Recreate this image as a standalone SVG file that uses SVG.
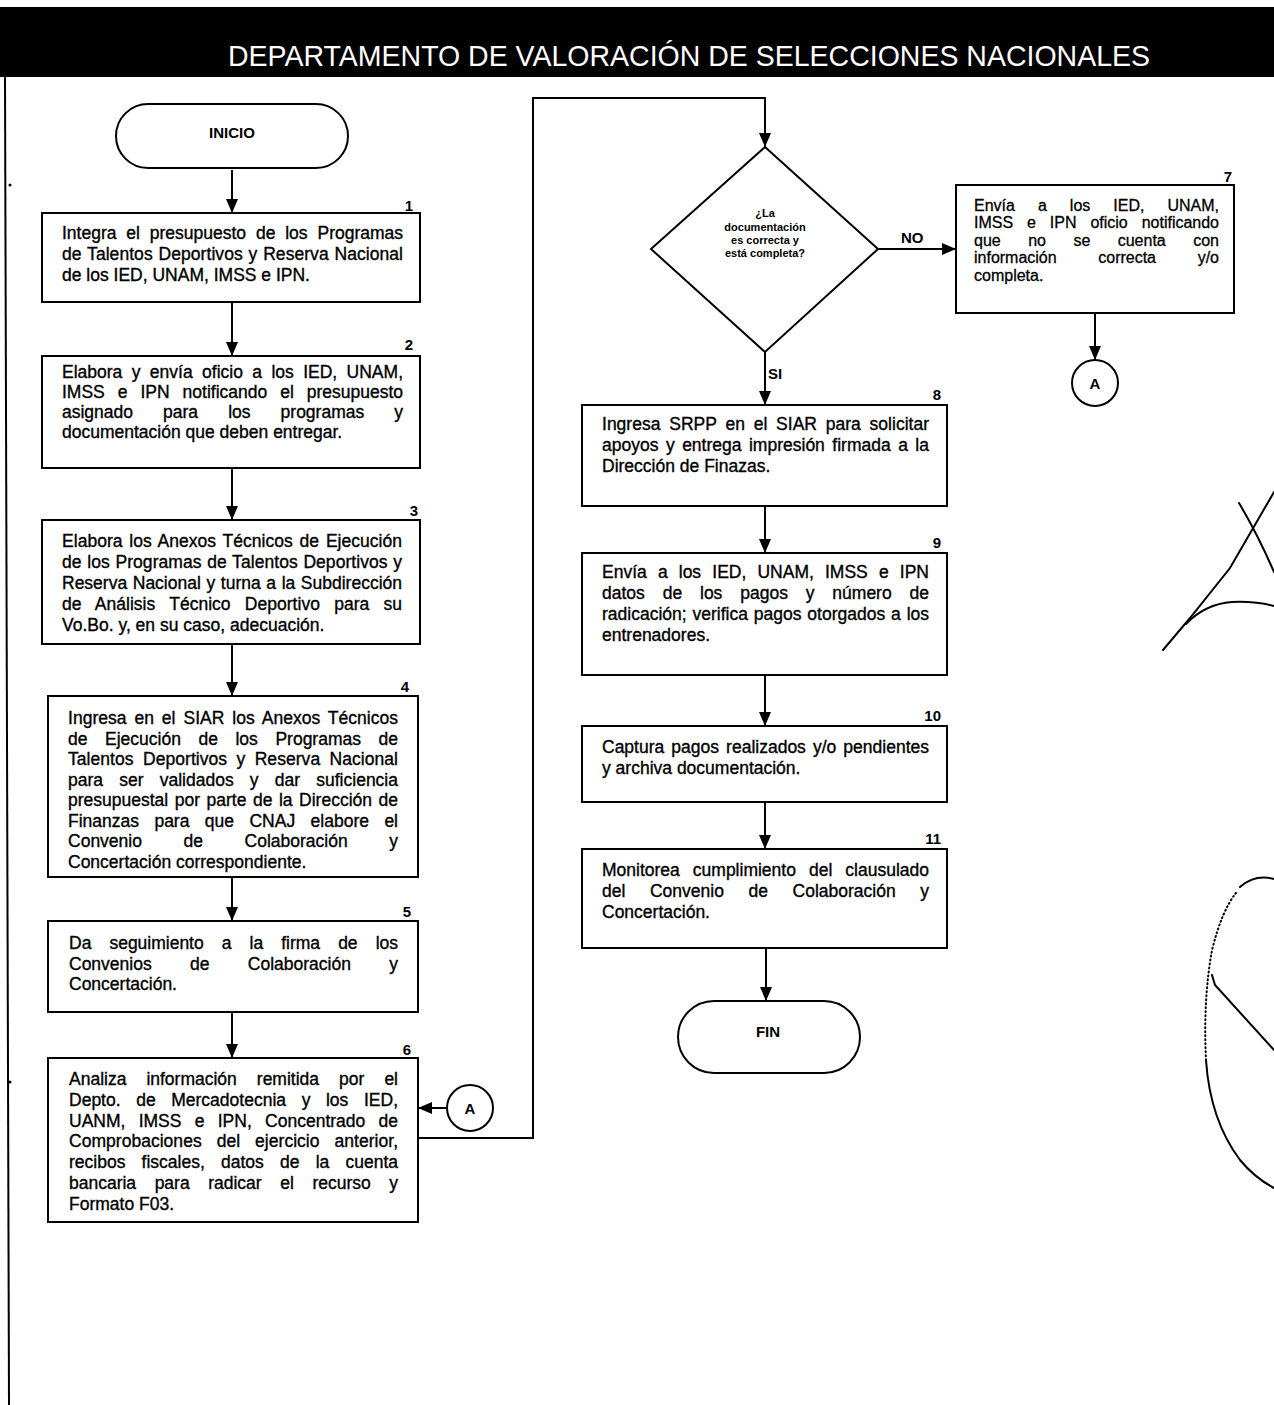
<svg xmlns="http://www.w3.org/2000/svg" width="1274" height="1405" viewBox="0 0 1274 1405">
<style>
  .box{fill:#fff;stroke:#000;stroke-width:2}
  .ln{fill:none;stroke:#000;stroke-width:2}
  .t{font-family:"Liberation Sans",Arial,sans-serif;font-size:17.5px;fill:#000;stroke:#000;stroke-width:0.35}
  .t7{font-family:"Liberation Sans",Arial,sans-serif;font-size:16px;fill:#000;stroke:#000;stroke-width:0.3}
  .n{font-family:"Liberation Sans",Arial,sans-serif;font-size:15px;font-weight:bold;fill:#000;text-anchor:end}
  .lab{font-family:"Liberation Sans",Arial,sans-serif;font-size:15px;font-weight:bold;fill:#000}
  .dq{font-family:"Liberation Sans",Arial,sans-serif;font-size:11px;font-weight:bold;fill:#000;text-anchor:middle}
  .c{font-family:"Liberation Sans",Arial,sans-serif;font-size:15px;font-weight:bold;fill:#000;text-anchor:middle}
  .sc{fill:none;stroke:#000;stroke-width:2;stroke-linecap:round}
</style>
<defs>
  <marker id="ah" markerUnits="userSpaceOnUse" markerWidth="14" markerHeight="12" refX="14" refY="6" orient="auto">
    <path d="M0,0 L14,6 L0,12 z" fill="#000"/>
  </marker>
</defs>
<rect width="1274" height="1405" fill="#fff"/>

<g id="header">
  <rect x="0" y="7" width="1274" height="70" fill="#000"/>
  <text x="228" y="66" textLength="922" lengthAdjust="spacingAndGlyphs" style="font-family:'Liberation Sans Narrow','Liberation Sans',Arial,sans-serif;font-size:29px;fill:#fff">DEPARTAMENTO DE VALORACIÓN DE SELECCIONES NACIONALES</text>
</g>
<line x1="5" y1="77" x2="9" y2="1405" stroke="#000" stroke-width="2"/>
<circle cx="10" cy="185" r="1.5" fill="#000"/>
<circle cx="10" cy="1082" r="1.5" fill="#000"/>

<g id="connectors">
  <line class="ln" x1="232" y1="170" x2="232" y2="213" marker-end="url(#ah)"/>
  <line class="ln" x1="232" y1="302" x2="232" y2="356" marker-end="url(#ah)"/>
  <line class="ln" x1="232" y1="468" x2="232" y2="520" marker-end="url(#ah)"/>
  <line class="ln" x1="232" y1="644" x2="232" y2="696" marker-end="url(#ah)"/>
  <line class="ln" x1="232" y1="877" x2="232" y2="921" marker-end="url(#ah)"/>
  <line class="ln" x1="232" y1="1012" x2="232" y2="1058" marker-end="url(#ah)"/>
  <line class="ln" x1="447" y1="1108" x2="418" y2="1108" marker-end="url(#ah)"/>
  <polyline class="ln" points="418,1138 533,1138 533,98 765,98 765,147" marker-end="url(#ah)"/>
  <line class="ln" x1="878" y1="249" x2="956" y2="249" marker-end="url(#ah)"/>
  <line class="ln" x1="1095" y1="313" x2="1095" y2="360" marker-end="url(#ah)"/>
  <line class="ln" x1="765" y1="352" x2="765" y2="405" marker-end="url(#ah)"/>
  <line class="ln" x1="765" y1="506" x2="765" y2="553" marker-end="url(#ah)"/>
  <line class="ln" x1="765" y1="675" x2="765" y2="726" marker-end="url(#ah)"/>
  <line class="ln" x1="765" y1="802" x2="765" y2="849" marker-end="url(#ah)"/>
  <line class="ln" x1="766" y1="948" x2="766" y2="1001" marker-end="url(#ah)"/>
  <text class="lab" x="901" y="243">NO</text>
  <text class="lab" x="768" y="379">SI</text>
</g>

<g id="inicio">
  <rect class="box" x="116" y="104" width="232" height="64" rx="32"/>
  <text class="c" x="232" y="138">INICIO</text>
</g>

<g id="n1">
  <rect class="box" x="42" y="213" width="378" height="89"/>
  <text class="n" x="413" y="211">1</text>
  <text class="t" x="62" y="239" textLength="341" style="word-spacing:5px">Integra el presupuesto de los Programas</text>
  <text class="t" x="62" y="260" textLength="341" style="word-spacing:0.9px">de Talentos Deportivos y Reserva Nacional</text>
  <text class="t" x="62" y="281">de los IED, UNAM, IMSS e IPN.</text>
</g>

<g id="n2">
  <rect class="box" x="42" y="356" width="378" height="112"/>
  <text class="n" x="413" y="350">2</text>
  <text class="t" x="62" y="378" textLength="341" style="word-spacing:4.5px">Elabora y envía oficio a los IED, UNAM,</text>
  <text class="t" x="62" y="398" textLength="341" style="word-spacing:8.1px">IMSS e IPN notificando el presupuesto</text>
  <text class="t" x="62" y="418" textLength="341" style="word-spacing:25.2px">asignado para los programas y</text>
  <text class="t" x="62" y="438">documentación que deben entregar.</text>
</g>

<g id="n3">
  <rect class="box" x="42" y="520" width="378" height="124"/>
  <text class="n" x="418" y="516">3</text>
  <text class="t" x="62" y="547" textLength="340" style="word-spacing:1.9px">Elabora los Anexos Técnicos de Ejecución</text>
  <text class="t" x="62" y="568" textLength="340" style="word-spacing:0.75px">de los Programas de Talentos Deportivos y</text>
  <text class="t" x="62" y="589" textLength="340" style="word-spacing:0.75px">Reserva Nacional y turna a la Subdirección</text>
  <text class="t" x="62" y="610" textLength="340" style="word-spacing:9.3px">de Análisis Técnico Deportivo para su</text>
  <text class="t" x="62" y="631">Vo.Bo. y, en su caso, adecuación.</text>
</g>

<g id="n4">
  <rect class="box" x="48" y="696" width="370" height="181"/>
  <text class="n" x="409" y="692">4</text>
  <text class="t" x="68" y="724" textLength="330" style="word-spacing:3px">Ingresa en el SIAR los Anexos Técnicos</text>
  <text class="t" x="68" y="744.5" textLength="330" style="word-spacing:12.7px">de Ejecución de los Programas de</text>
  <text class="t" x="68" y="765" textLength="330" style="word-spacing:4.45px">Talentos Deportivos y Reserva Nacional</text>
  <text class="t" x="68" y="785.5" textLength="330" style="word-spacing:11.3px">para ser validados y dar suficiencia</text>
  <text class="t" x="68" y="806" textLength="330" style="word-spacing:1.67px">presupuestal por parte de la Dirección de</text>
  <text class="t" x="68" y="826.5" textLength="330" style="word-spacing:10.6px">Finanzas para que CNAJ elabore el</text>
  <text class="t" x="68" y="847" textLength="330" style="word-spacing:36.7px">Convenio de Colaboración y</text>
  <text class="t" x="68" y="867.5">Concertación correspondiente.</text>
</g>

<g id="n5">
  <rect class="box" x="48" y="921" width="370" height="91"/>
  <text class="n" x="411" y="917">5</text>
  <text class="t" x="69" y="949" textLength="329" style="word-spacing:13.2px">Da seguimiento a la firma de los</text>
  <text class="t" x="69" y="969.5" textLength="329" style="word-spacing:33.5px">Convenios de Colaboración y</text>
  <text class="t" x="69" y="990">Concertación.</text>
</g>

<g id="n6">
  <rect class="box" x="48" y="1058" width="370" height="164"/>
  <text class="n" x="411" y="1055">6</text>
  <text class="t" x="69" y="1085" textLength="329" style="word-spacing:15.2px">Analiza información remitida por el</text>
  <text class="t" x="69" y="1106" textLength="329" style="word-spacing:10.7px">Depto. de Mercadotecnia y los IED,</text>
  <text class="t" x="69" y="1126.5" textLength="329" style="word-spacing:8.4px">UANM, IMSS e IPN, Concentrado de</text>
  <text class="t" x="69" y="1147" textLength="329" style="word-spacing:10.1px">Comprobaciones del ejercicio anterior,</text>
  <text class="t" x="69" y="1168" textLength="329" style="word-spacing:11.3px">recibos fiscales, datos de la cuenta</text>
  <text class="t" x="69" y="1189" textLength="329" style="word-spacing:13.7px">bancaria para radicar el recurso y</text>
  <text class="t" x="69" y="1209.5">Formato F03.</text>
</g>

<g id="connA1">
  <circle class="box" cx="470" cy="1108" r="23"/>
  <text class="c" x="470" y="1114">A</text>
</g>

<g id="decision">
  <polygon class="box" points="765,147 878,249 765,352 651,249"/>
  <text class="dq" x="765" y="217">¿La</text>
  <text class="dq" x="765" y="231">documentación</text>
  <text class="dq" x="765" y="244">es correcta y</text>
  <text class="dq" x="765" y="257">está completa?</text>
</g>

<g id="n7">
  <rect class="box" x="956" y="185" width="278" height="128"/>
  <text class="n" x="1232" y="182">7</text>
  <text class="t7" x="974" y="210.5" textLength="245" style="word-spacing:18.6px">Envía a los IED, UNAM,</text>
  <text class="t7" x="974" y="228" textLength="245" style="word-spacing:9.5px">IMSS e IPN oficio notificando</text>
  <text class="t7" x="974" y="245.5" textLength="245" style="word-spacing:23px">que no se cuenta con</text>
  <text class="t7" x="974" y="263" textLength="245" style="word-spacing:37.2px">información correcta y/o</text>
  <text class="t7" x="974" y="280.5">completa.</text>
</g>

<g id="connA2">
  <circle class="box" cx="1095" cy="383" r="23"/>
  <text class="c" x="1095" y="389">A</text>
</g>

<g id="n8">
  <rect class="box" x="582" y="405" width="365" height="101"/>
  <text class="n" x="941" y="400">8</text>
  <text class="t" x="602" y="430" textLength="327" style="word-spacing:3.9px">Ingresa SRPP en el SIAR para solicitar</text>
  <text class="t" x="602" y="451" textLength="327" style="word-spacing:2.6px">apoyos y entrega impresión firmada a la</text>
  <text class="t" x="602" y="472">Dirección de Finazas.</text>
</g>

<g id="n9">
  <rect class="box" x="582" y="553" width="365" height="122"/>
  <text class="n" x="941" y="548">9</text>
  <text class="t" x="602" y="578" textLength="327" style="word-spacing:6.3px">Envía a los IED, UNAM, IMSS e IPN</text>
  <text class="t" x="602" y="599" textLength="327" style="word-spacing:13px">datos de los pagos y número de</text>
  <text class="t" x="602" y="620" textLength="327" style="word-spacing:1px">radicación; verifica pagos otorgados a los</text>
  <text class="t" x="602" y="641">entrenadores.</text>
</g>

<g id="n10">
  <rect class="box" x="582" y="726" width="365" height="76"/>
  <text class="n" x="941" y="721">10</text>
  <text class="t" x="602" y="753" textLength="327" style="word-spacing:2.2px">Captura pagos realizados y/o pendientes</text>
  <text class="t" x="602" y="774">y archiva documentación.</text>
</g>

<g id="n11">
  <rect class="box" x="582" y="849" width="365" height="99"/>
  <text class="n" x="941" y="844">11</text>
  <text class="t" x="602" y="876" textLength="327" style="word-spacing:8.2px">Monitorea cumplimiento del clausulado</text>
  <text class="t" x="602" y="897" textLength="327" style="word-spacing:19.75px">del Convenio de Colaboración y</text>
  <text class="t" x="602" y="918">Concertación.</text>
</g>

<g id="fin">
  <rect class="box" x="678" y="1001" width="182" height="72" rx="36"/>
  <text class="c" x="768" y="1037">FIN</text>
</g>

<g id="handwriting">
  <path class="sc" d="M1163,650 L1190,618 L1230,568 L1274,492"/>
  <path class="sc" d="M1239,503 Q1258,535 1274,572"/>
  <path class="sc" d="M1186,624 Q1205,604 1232,602 Q1255,601 1274,606"/>
  <path class="sc" d="M1240,887 Q1255,874 1274,879" stroke-width="1.5"/>
  <path class="sc" d="M1236,893 Q1222,910 1212,950 Q1203,1000 1206,1060" stroke-width="1.2" stroke-dasharray="1 3"/>
  <path class="sc" d="M1206,1060 Q1210,1120 1240,1160 Q1255,1178 1274,1188" stroke-width="1.5"/>
  <path class="sc" d="M1212,975 L1215,985 L1274,1050"/>
</g>
</svg>
